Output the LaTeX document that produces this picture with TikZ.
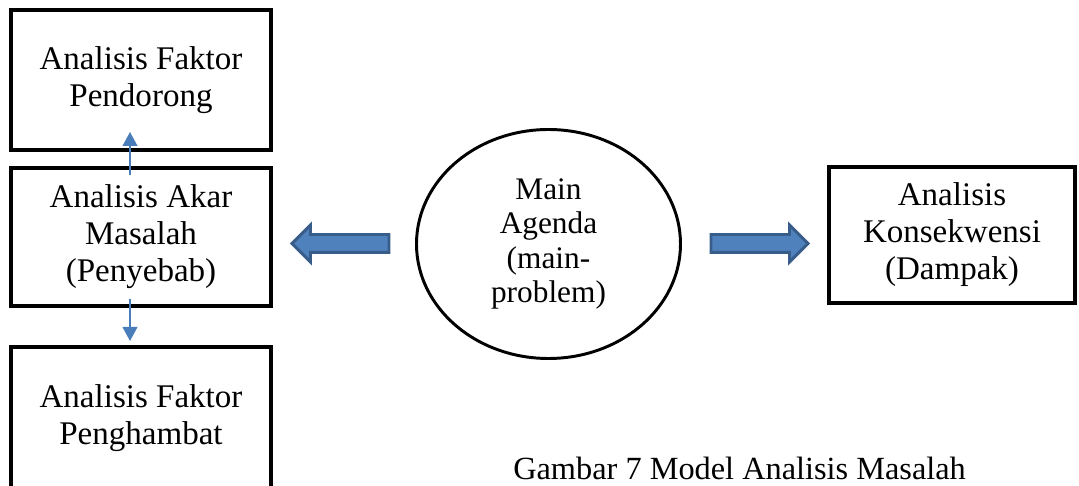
\documentclass[tikz,border=0pt]{standalone}
\usepackage{fontspec}
\setmainfont{Liberation Serif}
\usepackage{xcolor}
\usepackage{tikz}
\usetikzlibrary{arrows.meta, positioning, calc, shapes.geometric, shapes.arrows}
\definecolor{arrowblue}{RGB}{79,129,189}
\definecolor{arrowedge}{RGB}{56,93,138}
\definecolor{linkblue}{RGB}{74,126,187}

\begin{document}
\begin{tikzpicture}[
    >={Triangle[length=3.5mm, width=3.7mm]},
    box/.style={draw, line width=2.85pt, minimum width=6.5cm, align=center, font=\fontsize{23.5}{26.3}\selectfont},
    bigarrow/.style={single arrow, draw=arrowedge, fill=arrowblue, line width=2.1pt, inner sep=0.1875cm, single arrow head extend=0.2375cm, minimum width=0.85cm, minimum height=2.425cm},
    link/.style={->, linkblue, line width=1pt},
]
    \useasboundingbox (0,0) rectangle (26.975,12.15);
    \clip (0,0) rectangle (26.975,12.15);

    \node[box, minimum height=3.5cm] (pendorong) at (3.525, 10.15) {Analisis Faktor\\Pendorong};
    \node[box, minimum height=3.45cm] (akar) at (3.525, 6.225) {Analisis Akar\\Masalah\\(Penyebab)};
    \node[box, minimum height=3.575cm] (penghambat) at (3.525, 1.6875) {Analisis Faktor\\Penghambat};

    \node[draw, ellipse, line width=2.1pt, minimum width=6.6cm, minimum height=5.725cm, align=center, font=\fontsize{22.3}{24.5}\selectfont] (agenda) at (13.7125, 6.05) {Main\\Agenda\\(main-\\problem)};
    \node[box, minimum width=6.15cm, minimum height=3.4cm] (dampak) at (23.8, 6.275) {Analisis\\Konsekwensi\\(Dampak)};

    \node[bigarrow, shape border rotate=180] (kiri) at (8.625, 6.0625) {};
    \node[bigarrow] (kanan) at (18.875, 6.0625) {};

    \draw[link] ([xshift=-0.275cm, yshift=-0.225cm]akar.north) -- ([xshift=-0.275cm, yshift=0.5cm]pendorong.south);
    \draw[link] ([xshift=-0.275cm, yshift=0.225cm]akar.south) -- ([xshift=-0.275cm, yshift=0.1cm]penghambat.north);

    \node[anchor=base west, inner sep=0pt, font=\fontsize{23}{27}\selectfont] (caption) at (12.825, 0.15) {Gambar 7 Model Analisis Masalah};
\end{tikzpicture}
\end{document}
